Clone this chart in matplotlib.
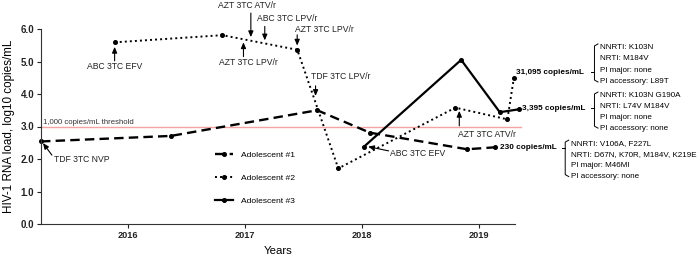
import matplotlib.pyplot as plt

plt.rcParams['font.family'] = ['Liberation Sans', 'DejaVu Sans']

# viral load, log10 copies/mL, by date (decimal years)
years_1 = [2015.26, 2016.37, 2017.62, 2018.07, 2018.90, 2019.14]
load_1 = [2.54, 2.71, 3.50, 2.81, 2.30, 2.36]

years_2 = [2015.89, 2016.81, 2017.45, 2017.80, 2018.80, 2019.245, 2019.30]
load_2 = [5.59, 5.81, 5.36, 1.71, 3.58, 3.22, 4.49]

years_3 = [2018.02, 2018.85, 2019.18, 2019.345]
load_3 = [2.38, 5.05, 3.44, 3.53]

threshold = 3.0
x_ticks = [2016, 2017, 2018, 2019]
y_ticks = [0, 1, 2, 3, 4, 5, 6]

# regimen switches: text, text pos, arrow tail, arrow tip
regimens = [
    ("TDF 3TC NVP", (2015.37, 1.99), "left", (2015.353, 2.12), (2015.277, 2.49)),
    ("ABC 3TC EFV", (2015.889, 4.84), "center", (2015.889, 5.02), (2015.889, 5.45)),
    ("AZT 3TC ATV/r", (2017.021, 6.72), "center", (2017.053, 6.49), (2017.053, 5.75)),
    ("ABC 3TC LPV/r", (2017.367, 6.31), "center", (2017.172, 6.08), (2017.172, 5.65)),
    ("AZT 3TC LPV/r", (2017.685, 5.97), "center", (2017.449, 5.82), (2017.449, 5.49)),
    ("AZT 3TC LPV/r", (2017.034, 4.96), "center", (2016.990, 5.15), (2016.990, 5.59)),
    ("TDF 3TC LPV/r", (2017.821, 4.55), "center", (2017.606, 4.25), (2017.606, 3.94)),
    ("ABC 3TC EFV", (2018.238, 2.18), "left", (2018.230, 2.25), (2018.055, 2.38)),
    ("AZT 3TC ATV/r", (2019.072, 2.76), "center", (2018.834, 3.02), (2018.834, 3.48)),
]

# final loads and resistance mutations
final_labels = ["31,095 copies/mL", "3,395 copies/mL", "230 copies/mL"]
final_label_pos = [(2019.319, 4.67), (2019.370, 3.56), (2019.186, 2.35)]
bracket_x = [2019.989, 2019.989, 2019.739]
bracket_y = [(5.54, 4.37), (4.06, 2.95), (2.58, 1.46)]
mutations = [
    ["NNRTI: K103N", "NRTI: M184V", "PI major: none", "PI accessory: L89T"],
    ["NNRTI: K103N G190A", "NRTI: L74V M184V", "PI major: none", "PI accessory: none"],
    ["NNRTI: V106A, F227L", "NRTI: D67N, K70R, M184V, K219E", "PI major: M46MI", "PI accessory: none"],
]

fig = plt.figure(figsize=(6.99, 2.56), dpi=100)
ax = fig.add_axes([41 / 699, 1 - 224 / 256, 474 / 699, 195 / 256])

ax.plot(years_1, load_1, color="black", lw=1.7, dashes=(4, 2.2), marker="o", ms=2.6,
        label="Adolescent #1", clip_on=False)
ax.plot(years_2, load_2, color="black", lw=1.4, dashes=(1, 1.6), marker="o", ms=2.6,
        label="Adolescent #2", clip_on=False)
ax.plot(years_3, load_3, color="black", lw=1.6, marker="o", ms=2.6,
        label="Adolescent #3", clip_on=False)

ax.axhline(threshold, xmin=0, xmax=1.012, color="#f4a3a3", lw=1.0, clip_on=False, zorder=0)
ax.text(2015.28, threshold + 0.03, "1,000 copies/mL threshold", fontsize=5.6,
        color="#333333", va="bottom", ha="left")

ax.set_xlim(2015.26, 2019.31)
ax.set_ylim(0, 6)
ax.set_xticks(x_ticks)
ax.set_xticklabels([str(y) for y in x_ticks], fontsize=6.6, fontweight="bold")
ax.set_yticks(y_ticks)
ax.set_yticklabels([f"{v:.1f}" for v in y_ticks], fontsize=7, fontweight="bold")
ax.tick_params(length=3, width=0.8, pad=2, colors="#222222")
for s in ["top", "right"]:
    ax.spines[s].set_visible(False)
for s in ["left", "bottom"]:
    ax.spines[s].set_linewidth(0.8)
    ax.spines[s].set_color("#333333")

ax.set_xlabel("Years", fontsize=8.2, labelpad=4)
ax.set_ylabel("HIV-1 RNA load, log10 copies/mL", fontsize=8.4, labelpad=4)

leg = ax.legend(loc="upper left", bbox_to_anchor=(0.367, 0.374), frameon=False,
                fontsize=6.1, handlelength=2.1, handletextpad=1.0, labelspacing=1.8,
                borderpad=0, borderaxespad=0)

for text, tpos, ha, tail, tip in regimens:
    ax.text(tpos[0], tpos[1], text, fontsize=6.2, ha=ha, va="center", color="#222222")
    ax.annotate("", xy=tip, xytext=tail,
                arrowprops=dict(arrowstyle="-|>,head_length=0.35,head_width=0.15",
                                color="black", lw=0.8, shrinkA=0, shrinkB=0),
                annotation_clip=False)

for lab, pos, bx, (y0, y1), muts in zip(final_labels, final_label_pos, bracket_x,
                                         bracket_y, mutations):
    ax.text(pos[0], pos[1], lab, fontsize=5.9, fontweight="bold", ha="left",
            va="center", clip_on=False)
    # bracket
    h = 0.03
    ax.plot([bx + h, bx, bx, bx + h], [y0, y0 - 0.06, y1 + 0.06, y1], color="black",
            lw=0.7, clip_on=False)
    ax.plot([bx - 0.03, bx], [pos[1], pos[1]], color="black", lw=0.7, clip_on=False)
    step = (y0 - y1) / 3.3
    for i, m in enumerate(muts):
        ax.text(bx + 0.046, y0 - 0.1 - i * step, m, fontsize=5.8, ha="left",
                va="center", clip_on=False)

fig.savefig("out.png", dpi=100)
